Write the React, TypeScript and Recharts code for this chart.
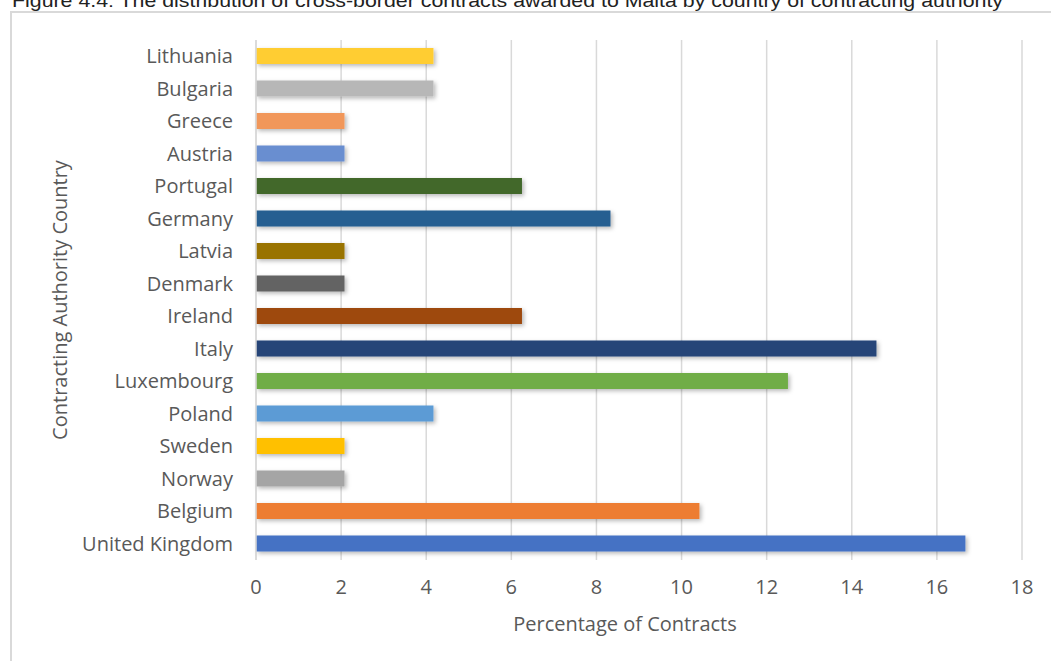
import { Bar, BarChart, CartesianGrid, Cell, XAxis, YAxis } from "recharts";

const countries = [
  "Lithuania",
  "Bulgaria",
  "Greece",
  "Austria",
  "Portugal",
  "Germany",
  "Latvia",
  "Denmark",
  "Ireland",
  "Italy",
  "Luxembourg",
  "Poland",
  "Sweden",
  "Norway",
  "Belgium",
  "United Kingdom",
];

const shares = [
  4.17, 4.17, 2.08, 2.08, 6.25, 8.33, 2.08, 2.08, 6.25, 14.58, 12.5, 4.17, 2.08, 2.08, 10.42, 16.67,
];

const barColors = [
  "#FFCD33",
  "#B7B7B7",
  "#F1975A",
  "#698ED0",
  "#43682B",
  "#255E91",
  "#997300",
  "#636363",
  "#9E480E",
  "#264478",
  "#70AD47",
  "#5B9BD5",
  "#FFC000",
  "#A5A5A5",
  "#ED7D31",
  "#4472C4",
];

const xTicks = [0, 2, 4, 6, 8, 10, 12, 14, 16, 18];

const data = countries.map((country, i) => ({ country, share: shares[i] }));

const font = "'Open Sans', 'Noto Sans', sans-serif";
const grey = "#595959";

export default function App() {
  return (
    <div
      style={{
        position: "absolute",
        left: 0,
        top: 0,
        width: 1051,
        height: 661,
        background: "#fff",
        overflow: "hidden",
      }}
    >
      <svg width={1051} height={20} style={{ position: "absolute", left: 0, top: 0 }}>
        <text
          x={12}
          y={7}
          fontSize={19}
          fill="#222"
          fontFamily="'Liberation Sans', Arial, sans-serif"
          textLength={991}
          lengthAdjust="spacingAndGlyphs"
        >
          Figure 4.4: The distribution of cross-border contracts awarded to Malta by country of contracting authority
        </text>
      </svg>
      <div
        style={{
          position: "absolute",
          left: 10,
          top: 11,
          width: 1100,
          height: 700,
          borderLeft: "2px solid #d9d9d9",
          borderTop: "2px solid #d9d9d9",
        }}
      />
      <div style={{ position: "absolute", left: 0, top: 0 }}>
        <BarChart
          width={1051}
          height={661}
          data={data}
          layout="vertical"
          margin={{ top: 40, right: 29, bottom: 26, left: 0 }}
          barCategoryGap="50%"
        >
          <defs>
            <filter id="barShadow" x="-5%" y="-40%" width="115%" height="190%">
              <feDropShadow dx={2} dy={2} stdDeviation={2} floodColor="#000" floodOpacity={0.28} />
            </filter>
          </defs>
          <CartesianGrid horizontal={false} stroke="#d9d9d9" strokeWidth={1.5} />
          <XAxis
            type="number"
            domain={[0, 18]}
            ticks={xTicks}
            axisLine={false}
            tickLine={false}
            tickSize={0}
            tickMargin={20}
            height={75}
            tick={{ fill: grey, fontSize: 20, fontFamily: font }}
            label={{
              value: "Percentage of Contracts",
              position: "insideBottom",
              offset: 4,
              dx: -14,
              fill: grey,
              fontSize: 20,
              fontFamily: font,
            }}
          />
          <YAxis
            type="category"
            dataKey="country"
            width={256}
            axisLine={{ stroke: "#d9d9d9", strokeWidth: 1.5 }}
            tickLine={false}
            tickSize={0}
            tickMargin={23}
            interval={0}
            tick={{ fill: grey, fontSize: 20, fontFamily: font }}
            label={{
              value: "Contracting Authority Country",
              angle: -90,
              position: "insideLeft",
              offset: 60,
              fill: grey,
              fontSize: 20,
              fontFamily: font,
              style: { textAnchor: "middle" },
            }}
          />
          <Bar dataKey="share" barSize={16} isAnimationActive={false} filter="url(#barShadow)">
            {data.map((d, i) => (
              <Cell key={d.country} fill={barColors[i]} />
            ))}
          </Bar>
        </BarChart>
      </div>
    </div>
  );
}
